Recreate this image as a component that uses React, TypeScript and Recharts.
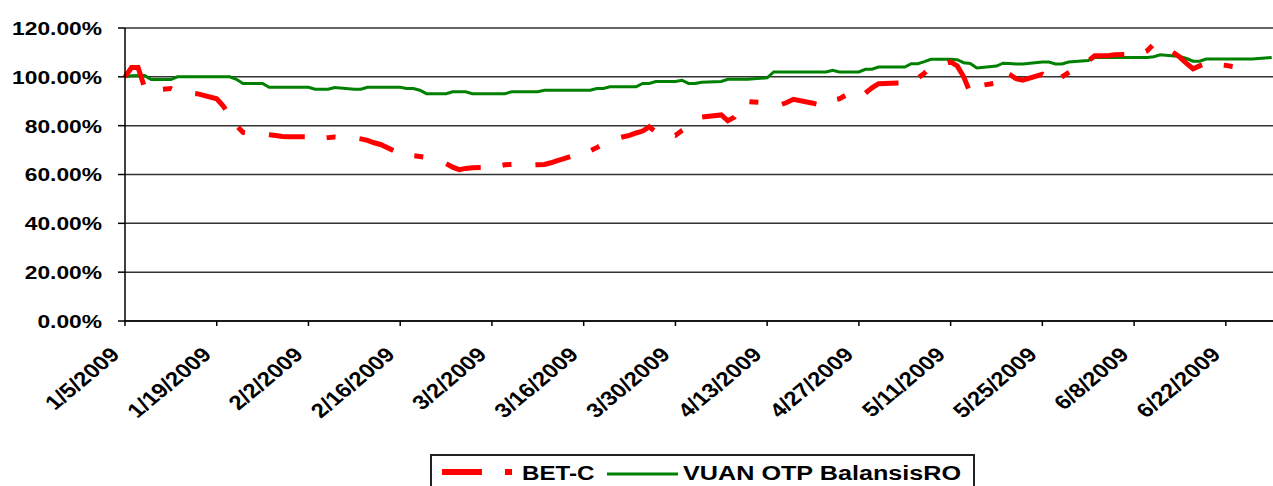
import { LineChart, Line, XAxis, YAxis, CartesianGrid, Legend } from 'recharts'

// days counted from the first trading day shown
const START = Date.UTC(2009, 0, 5)
const dayOf = (s: string) => {
  const [m, d, y] = s.split('/').map(Number)
  return Math.round((Date.UTC(y, m - 1, d) - START) / 86400000)
}

const xTickLabels = [
  '1/5/2009', '1/19/2009', '2/2/2009', '2/16/2009', '3/2/2009', '3/16/2009', '3/30/2009',
  '4/13/2009', '4/27/2009', '5/11/2009', '5/25/2009', '6/8/2009', '6/22/2009',
]
const yTicks = [0, 20, 40, 60, 80, 100, 120]

const betDates = [
  '1/5/2009', '1/6/2009', '1/7/2009', '1/8/2009', '1/9/2009', '1/12/2009', '1/13/2009', '1/14/2009',
  '1/15/2009', '1/16/2009', '1/19/2009', '1/20/2009', '1/21/2009', '1/22/2009', '1/23/2009', '1/26/2009',
  '1/27/2009', '1/28/2009', '1/29/2009', '1/30/2009', '2/2/2009', '2/3/2009', '2/4/2009', '2/5/2009',
  '2/6/2009', '2/9/2009', '2/10/2009', '2/11/2009', '2/12/2009', '2/13/2009', '2/16/2009', '2/17/2009',
  '2/18/2009', '2/19/2009', '2/20/2009', '2/23/2009', '2/24/2009', '2/25/2009', '2/26/2009', '2/27/2009',
  '3/2/2009', '3/3/2009', '3/4/2009', '3/5/2009', '3/6/2009', '3/9/2009', '3/10/2009', '3/11/2009',
  '3/12/2009', '3/13/2009', '3/16/2009', '3/17/2009', '3/18/2009', '3/19/2009', '3/20/2009', '3/23/2009',
  '3/24/2009', '3/25/2009', '3/26/2009', '3/27/2009', '3/30/2009', '3/31/2009', '4/1/2009', '4/2/2009',
  '4/3/2009', '4/6/2009', '4/7/2009', '4/8/2009', '4/9/2009', '4/10/2009', '4/13/2009', '4/14/2009',
  '4/15/2009', '4/16/2009', '4/17/2009', '4/20/2009', '4/21/2009', '4/22/2009', '4/23/2009', '4/24/2009',
  '4/27/2009', '4/28/2009', '4/29/2009', '4/30/2009', '5/4/2009', '5/5/2009', '5/6/2009', '5/7/2009',
  '5/8/2009', '5/11/2009', '5/12/2009', '5/13/2009', '5/14/2009', '5/15/2009', '5/18/2009', '5/19/2009',
  '5/20/2009', '5/21/2009', '5/22/2009', '5/25/2009', '5/26/2009', '5/27/2009', '5/28/2009', '5/29/2009',
  '6/1/2009', '6/2/2009', '6/3/2009', '6/4/2009', '6/5/2009', '6/8/2009', '6/9/2009', '6/10/2009',
  '6/11/2009', '6/12/2009', '6/15/2009', '6/16/2009', '6/17/2009', '6/18/2009', '6/19/2009', '6/22/2009',
  '6/23/2009', '6/24/2009', '6/25/2009', '6/26/2009',
]
const betValues = [
  100, 103.8, 103.8, 95.5, 94.5, 95.2, 94, 93.5,
  93.1, 93.1, 91, 88, 84, 80, 77.3, 76.6,
  76.3, 76, 75.6, 75.5, 75.4, 75.4, 74.8, 75.1,
  75.4, 75, 74.6, 74, 73, 72.3, 68.5, 67.8,
  67.7, 67.4, 67, 64.5, 63, 62, 62.5, 62.8,
  62.9, 63.5, 64, 64.1, 63.8, 64, 64.1, 64.8,
  65.7, 66.5, 69.2, 69.7, 71, 72.5, 74.2, 76,
  77, 77.8, 79.5, 77.5, 76, 78, 79.5, 82,
  83.5, 84.4, 82, 83.5, 87.5, 89.9, 89.3, 88.5,
  88.5, 89.5, 90.8, 89.2, 88.5, 89, 90.5, 91,
  95.5, 93.4, 95.5, 97.2, 97.5, 97.8, 99.5, 101.5,
  104, 106.1, 104.5, 100, 93.4, 96.2, 97.5, 102.4,
  101, 99.2, 98.6, 101, 98.8, 98.2, 100, 101.7,
  106.5, 108.6, 108.6, 108.6, 109, 109.3, 109.5, 110.7,
  113.4, 113.8, 108, 105.5, 103.3, 104.5, 105.5, 104.7,
  104.2, 103.8, 103.3, 103.1,
]

const vuanDates = [
  '1/5/2009', '1/6/2009', '1/8/2009', '1/9/2009', '1/12/2009', '1/13/2009', '1/21/2009', '1/22/2009',
  '1/23/2009', '1/26/2009', '1/27/2009', '2/2/2009', '2/3/2009', '2/5/2009', '2/6/2009', '2/9/2009',
  '2/10/2009', '2/11/2009', '2/16/2009', '2/17/2009', '2/18/2009', '2/19/2009', '2/20/2009', '2/23/2009',
  '2/24/2009', '2/26/2009', '2/27/2009', '3/4/2009', '3/5/2009', '3/9/2009', '3/10/2009', '3/17/2009',
  '3/18/2009', '3/19/2009', '3/20/2009', '3/24/2009', '3/25/2009', '3/26/2009', '3/27/2009', '3/30/2009',
  '3/31/2009', '4/1/2009', '4/2/2009', '4/3/2009', '4/6/2009', '4/7/2009', '4/10/2009', '4/13/2009',
  '4/14/2009', '4/22/2009', '4/23/2009', '4/24/2009', '4/27/2009', '4/28/2009', '4/29/2009', '4/30/2009',
  '5/4/2009', '5/5/2009', '5/6/2009', '5/7/2009', '5/8/2009', '5/11/2009', '5/12/2009', '5/13/2009',
  '5/14/2009', '5/15/2009', '5/18/2009', '5/19/2009', '5/20/2009', '5/21/2009', '5/22/2009', '5/25/2009',
  '5/26/2009', '5/27/2009', '5/28/2009', '5/29/2009', '6/1/2009', '6/2/2009', '6/10/2009', '6/11/2009',
  '6/12/2009', '6/15/2009', '6/16/2009', '6/17/2009', '6/18/2009', '6/19/2009', '6/26/2009', '6/29/2009',
]
const vuanValues = [
  100, 100.4, 100.5, 98.9, 98.9, 100, 100, 99,
  97.3, 97.3, 95.7, 95.7, 94.9, 94.9, 95.6, 94.9,
  94.9, 95.7, 95.7, 95.2, 95.2, 94.5, 93.1, 93.1,
  93.9, 93.9, 93.1, 93.1, 93.9, 93.9, 94.5, 94.5,
  95.2, 95.2, 95.9, 95.9, 97.3, 97.3, 98.1, 98.1,
  98.6, 97.3, 97.3, 97.8, 98.1, 99, 99, 99.6,
  102, 102, 102.7, 102, 102, 103.1, 103.1, 104,
  104, 105.4, 105.4, 106.2, 107.2, 107.2, 107, 105.8,
  105.5, 103.6, 104.4, 105.6, 105.5, 105.3, 105.3, 106.1,
  106.1, 105.3, 105.3, 106.1, 106.7, 107.9, 107.9, 108.2,
  109, 108.3, 107.5, 106.4, 106.4, 107.3, 107.3, 107.9,
]

const betData = betDates.map((d, i) => ({ day: dayOf(d), value: betValues[i] }))
const vuanData = vuanDates.map((d, i) => ({ day: dayOf(d), value: vuanValues[i] }))
const xTicks = xTickLabels.map(dayOf)

const FONT = '"Liberation Sans", Arial, sans-serif'
const STRETCH = 1.2

function XTick({ x, y, payload }: any) {
  const label = xTickLabels[xTicks.indexOf(payload.value)]
  return (
    <text
      x={0}
      y={0}
      transform={`translate(${x - 4},${y + 30}) scale(${STRETCH},1) rotate(-45)`}
      textAnchor="end"
      fontSize={20}
      fontWeight="bold"
      fontFamily={FONT}
      fill="#000"
    >
      {label}
    </text>
  )
}

function YTick({ x, y, payload }: any) {
  return (
    <text
      x={0}
      y={0}
      dy="0.36em"
      transform={`translate(${x},${y}) scale(${STRETCH},1)`}
      textAnchor="end"
      fontSize={19}
      fontWeight="bold"
      fontFamily={FONT}
      fill="#000"
    >
      {payload.value.toFixed(2)}%
    </text>
  )
}

function LegendBox() {
  return (
    <svg width={545} height={32} style={{ display: 'block' }}>
      <path d="M1,32 V1 H544 V32" fill="none" stroke="#222" strokeWidth={2} />
      <line x1={12} x2={52} y1={18} y2={18} stroke="#FF0000" strokeWidth={6} />
      <line x1={75} x2={82} y1={18} y2={18} stroke="#FF0000" strokeWidth={6} />
      <text x={0} y={0} transform={`translate(92,26) scale(1.15,1)`} fontSize={21} fontWeight="bold" fontFamily={FONT} fill="#000">
        BET-C
      </text>
      <line x1={177} x2={248} y1={20} y2={20} stroke="#008000" strokeWidth={3} />
      <text x={0} y={0} transform={`translate(253,26) scale(1.2,1)`} fontSize={21} fontWeight="bold" fontFamily={FONT} fill="#000">
        VUAN OTP BalansisRO
      </text>
    </svg>
  )
}

export default function App() {
  return (
    <div style={{ position: 'absolute', left: 0, top: 0, width: 1273, height: 486, overflow: 'hidden', background: '#fff' }}>
      <LineChart width={1273} height={486} margin={{ top: 28, right: 0, left: 0, bottom: 0 }}>
        <CartesianGrid vertical={false} stroke="#333" strokeWidth={1.5} />
        <XAxis
          type="number"
          dataKey="day"
          domain={[0, 175.2]}
          ticks={xTicks}
          tick={<XTick />}
          tickSize={5}
          tickMargin={0}
          height={165}
          interval={0}
          axisLine={{ stroke: '#000', strokeWidth: 1.5 }}
          tickLine={{ stroke: '#000', strokeWidth: 1.5 }}
        />
        <YAxis
          type="number"
          domain={[0, 120]}
          ticks={yTicks}
          tick={<YTick />}
          tickSize={7}
          tickMargin={16}
          width={125}
          interval={0}
          axisLine={{ stroke: '#000', strokeWidth: 1.5 }}
          tickLine={{ stroke: '#000', strokeWidth: 1.5 }}
        />
        <Legend
          layout="horizontal"
          verticalAlign="middle"
          align="center"
          content={<LegendBox />}
          wrapperStyle={{ top: 454, left: 430, width: 545, height: 32 }}
        />
        <Line
          data={vuanData}
          dataKey="value"
          name="VUAN OTP BalansisRO"
          type="linear"
          stroke="#008000"
          strokeWidth={3}
          dot={false}
          isAnimationActive={false}
        />
        <Line
          data={betData}
          dataKey="value"
          name="BET-C"
          type="linear"
          stroke="#FF0000"
          strokeWidth={5}
          strokeDasharray="36 22 9 24"
          dot={false}
          isAnimationActive={false}
        />
      </LineChart>
    </div>
  )
}
